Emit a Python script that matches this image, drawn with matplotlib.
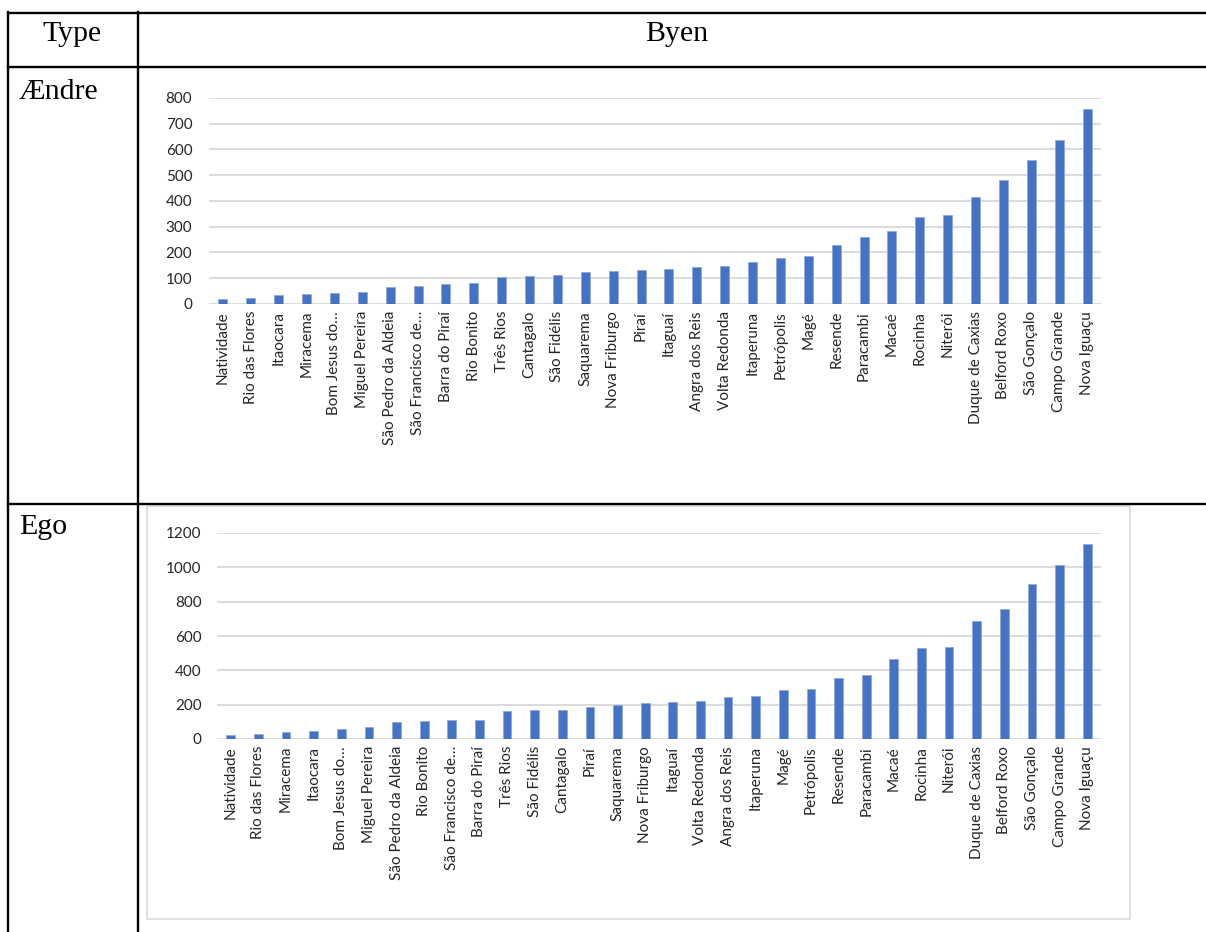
import matplotlib
matplotlib.use("Agg")
import matplotlib.pyplot as plt
from matplotlib.lines import Line2D
from matplotlib.patches import Rectangle

W, H = 1206, 932

cats_1 = ["Natividade", "Rio das Flores", "Itaocara", "Miracema", "Bom Jesus do…",
          "Miguel Pereira", "São Pedro da Aldeia", "São Francisco de…", "Barra do Piraí",
          "Rio Bonito", "Três Rios", "Cantagalo", "São Fidélis", "Saquarema",
          "Nova Friburgo", "Piraí", "Itaguaí", "Angra dos Reis", "Volta Redonda",
          "Itaperuna", "Petrópolis", "Magé", "Resende", "Paracambi", "Macaé",
          "Rocinha", "Niterói", "Duque de Caxias", "Belford Roxo", "São Gonçalo",
          "Campo Grande", "Nova Iguaçu"]
vals_1 = [19, 25, 35, 38, 44, 48, 66, 70, 77, 82, 105, 110, 113, 126, 128, 131,
          136, 145, 148, 163, 178, 188, 230, 261, 285, 338, 346, 416, 482, 558,
          637, 756]

cats_2 = ["Natividade", "Rio das Flores", "Miracema", "Itaocara", "Bom Jesus do…",
          "Miguel Pereira", "São Pedro da Aldeia", "Rio Bonito", "São Francisco de…",
          "Barra do Piraí", "Três Rios", "São Fidélis", "Cantagalo", "Piraí",
          "Saquarema", "Nova Friburgo", "Itaguaí", "Volta Redonda", "Angra dos Reis",
          "Itaperuna", "Magé", "Petrópolis", "Resende", "Paracambi", "Macaé",
          "Rocinha", "Niterói", "Duque de Caxias", "Belford Roxo", "São Gonçalo",
          "Campo Grande", "Nova Iguaçu"]
vals_2 = [21, 29, 39, 49, 60, 72, 97, 105, 113, 113, 165, 169, 169, 185, 200, 210,
          215, 224, 243, 253, 286, 290, 356, 373, 467, 533, 537, 689, 759, 903,
          1012, 1138]

yticks_1 = [0, 100, 200, 300, 400, 500, 600, 700, 800]
yticks_2 = [0, 200, 400, 600, 800, 1000, 1200]

row_labels = ["Ændre", "Ego"]
header = ["Type", "Byen"]

BAR = "#4472C4"
GRID = "#D9D9D9"
TXT = "#262626"
LABFONT = ["Lato", "DejaVu Sans"]

fig = plt.figure(figsize=(W / 100, H / 100), dpi=100)

# overlay for table lines/text in pixel coordinates
ov = fig.add_axes([0, 0, 1, 1])
ov.set_xlim(0, W)
ov.set_ylim(H, 0)
ov.axis("off")

lw = 1.7
for (x0, y0, x1, y1) in [(8, 12.5, W, 12.5), (8, 67, W, 67), (8, 504, W, 504),
                         (8, 12, 8, H), (138, 12, 138, H)]:
    ov.add_line(Line2D([x0, x1], [y0, y1], color="black", lw=lw, solid_capstyle="projecting"))

serif = ["Liberation Serif", "DejaVu Serif"]
FS = 21.5
ov.text(72, 41, header[0], ha="center", va="baseline", fontsize=FS, family=serif)
ov.text(677, 41, header[1], ha="center", va="baseline", fontsize=FS, family=serif)
ov.text(19, 99, row_labels[0], ha="left", va="baseline", fontsize=FS, family=serif)
ov.text(19, 534, row_labels[1], ha="left", va="baseline", fontsize=FS, family=serif)

# Ego chart box
ov.add_patch(Rectangle((147, 506), 983, 413, facecolor="white", edgecolor=GRID, lw=1.2))


def make_chart(left, right, top, bottom, cats, vals, yticks, pad):
    ax = fig.add_axes([left / W, 1 - bottom / H, (right - left) / W, (bottom - top) / H])
    ax.set_facecolor("none")
    x = list(range(len(cats)))
    ax.bar(x, vals, width=0.32, color=BAR, edgecolor="#8EA9DB", linewidth=0.6, zorder=3)
    ax.set_xlim(-0.5, len(cats) - 0.5)
    ax.set_ylim(yticks[0], yticks[-1])
    ax.set_yticks(yticks)
    ax.set_yticklabels([str(t) for t in yticks])
    ax.set_xticks(x)
    ax.set_xticklabels(cats, rotation=90, ha="center", va="top")
    ax.grid(axis="y", color=GRID, lw=1.3, zorder=0)
    ax.set_axisbelow(True)
    for s in ax.spines.values():
        s.set_visible(False)
    ax.tick_params(axis="both", length=0, colors=TXT)
    ax.tick_params(axis="y", pad=pad, labelsize=11)
    ax.tick_params(axis="x", pad=5, labelsize=11)
    for lab in ax.get_xticklabels() + ax.get_yticklabels():
        lab.set_family(LABFONT)
    return ax


make_chart(209, 1101, 98, 304, cats_1, vals_1, yticks_1, 12)
make_chart(217, 1101, 533, 739, cats_2, vals_2, yticks_2, 11)

fig.savefig("out.png", dpi=100)
